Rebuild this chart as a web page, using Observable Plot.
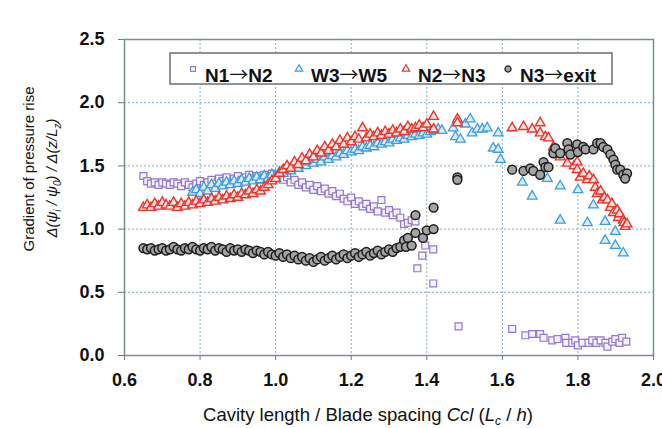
<!DOCTYPE html>
<html>
<head>
<meta charset="utf-8">
<script src="https://cdn.jsdelivr.net/npm/d3@7"></script>
<script src="https://cdn.jsdelivr.net/npm/@observablehq/plot@0.6"></script>
<style>
  html, body { margin: 0; padding: 0; background: #ffffff; }
  svg { display: block; }
</style>
</head>
<body>
<div id="chart"></div>
<script>
// ---- data ----
const seriesNames = ["N1\u2192N2", "W3\u2192W5", "N2\u2192N3", "N3\u2192exit"];
const xTicks = [0.6, 0.8, 1.0, 1.2, 1.4, 1.6, 1.8, 2.0];
const yTicks = [0.0, 0.5, 1.0, 1.5, 2.0, 2.5];

const n1n2 = [
  [0.65,1.42],[0.66,1.38],[0.67,1.36],[0.68,1.37],[0.69,1.35],[0.70,1.37],[0.71,1.36],[0.72,1.35],
  [0.73,1.37],[0.74,1.36],[0.75,1.34],[0.76,1.37],[0.77,1.35],[0.78,1.33],[0.79,1.36],[0.80,1.38],
  [0.81,1.35],[0.82,1.37],[0.83,1.39],[0.84,1.36],[0.85,1.40],[0.86,1.38],[0.87,1.41],[0.88,1.37],
  [0.89,1.40],[0.90,1.42],[0.91,1.39],[0.92,1.41],[0.93,1.43],[0.94,1.40],[0.95,1.42],[0.96,1.39],
  [0.97,1.43],[0.98,1.41],[0.99,1.44],[1.00,1.40],[1.01,1.42],[1.02,1.39],[1.03,1.41],[1.04,1.37],
  [1.05,1.39],[1.06,1.35],[1.07,1.37],[1.08,1.33],[1.09,1.35],[1.10,1.31],[1.11,1.34],[1.12,1.30],
  [1.13,1.32],[1.14,1.28],[1.15,1.30],[1.16,1.26],[1.17,1.28],[1.18,1.24],[1.19,1.22],[1.20,1.25],
  [1.21,1.20],[1.22,1.22],[1.23,1.18],[1.24,1.20],[1.25,1.16],[1.26,1.18],[1.27,1.14],[1.28,1.23],
  [1.29,1.13],[1.30,1.15],[1.31,1.11],[1.32,1.13],[1.33,1.09],[1.34,1.04],[1.35,1.05],[1.36,1.07],
  [1.37,1.06],[1.375,0.69],[1.388,0.79],[1.396,0.87],[1.417,0.84],[1.417,0.57],[1.484,0.23],
  [1.626,0.21],[1.661,0.16],[1.679,0.17],[1.70,0.17],[1.709,0.14],[1.732,0.12],[1.746,0.13],
  [1.767,0.14],[1.769,0.10],[1.785,0.10],[1.793,0.12],[1.80,0.08],[1.812,0.10],[1.828,0.10],
  [1.838,0.12],[1.849,0.10],[1.86,0.12],[1.873,0.10],[1.878,0.07],[1.891,0.11],[1.899,0.13],
  [1.91,0.10],[1.917,0.14],[1.928,0.11]
];

const w3w5 = [
  [0.78,1.29],[0.79,1.31],[0.80,1.28],[0.81,1.33],[0.82,1.30],[0.83,1.35],[0.84,1.32],[0.85,1.36],
  [0.86,1.34],[0.87,1.37],[0.88,1.35],[0.89,1.38],[0.90,1.36],[0.91,1.39],[0.92,1.37],[0.93,1.40],
  [0.94,1.38],[0.95,1.41],[0.96,1.39],[0.97,1.42],[0.98,1.40],[0.99,1.43],[1.00,1.42],[1.01,1.45],
  [1.02,1.44],[1.03,1.47],[1.04,1.46],[1.05,1.49],[1.06,1.48],[1.07,1.51],[1.08,1.50],[1.09,1.53],
  [1.10,1.52],[1.11,1.55],[1.12,1.53],[1.13,1.57],[1.14,1.55],[1.15,1.58],[1.16,1.57],[1.17,1.60],
  [1.18,1.59],[1.19,1.62],[1.20,1.61],[1.21,1.63],[1.22,1.62],[1.23,1.65],[1.24,1.64],[1.25,1.66],
  [1.26,1.65],[1.27,1.68],[1.28,1.67],[1.29,1.69],[1.30,1.68],[1.31,1.71],[1.32,1.70],[1.33,1.72],
  [1.34,1.71],[1.35,1.74],[1.36,1.73],[1.37,1.75],[1.38,1.74],[1.39,1.76],[1.40,1.75],[1.41,1.77],
  [1.42,1.78],[1.43,1.79],[1.44,1.78],[1.47,1.80],[1.476,1.73],[1.489,1.71],[1.502,1.83],
  [1.515,1.87],[1.52,1.76],[1.534,1.79],[1.547,1.79],[1.56,1.80],[1.589,1.76],[1.576,1.64],
  [1.589,1.63],[1.595,1.55],[1.653,1.37],[1.679,1.26],[1.719,1.40],[1.753,1.34],[1.753,1.07],
  [1.80,1.31],[1.825,1.05],[1.841,1.19],[1.872,1.06],[1.872,0.91],[1.899,0.98],[1.899,0.87],
  [1.92,0.81]
];

const n2n3 = [
  [0.65,1.17],[0.66,1.19],[0.67,1.17],[0.68,1.20],[0.69,1.18],[0.70,1.21],[0.71,1.19],[0.72,1.18],
  [0.73,1.21],[0.74,1.17],[0.75,1.20],[0.76,1.18],[0.77,1.21],[0.78,1.19],[0.79,1.22],[0.80,1.20],
  [0.81,1.23],[0.82,1.21],[0.83,1.24],[0.84,1.22],[0.85,1.25],[0.86,1.23],[0.87,1.26],[0.88,1.24],
  [0.89,1.27],[0.90,1.25],[0.91,1.28],[0.92,1.27],[0.93,1.30],[0.94,1.28],[0.95,1.31],[0.96,1.30],
  [0.97,1.33],[0.98,1.35],[0.99,1.38],[1.00,1.40],[1.01,1.44],[1.02,1.47],[1.03,1.50],[1.04,1.48],
  [1.05,1.53],[1.06,1.51],[1.07,1.56],[1.08,1.54],[1.09,1.59],[1.10,1.57],[1.11,1.62],[1.12,1.60],
  [1.13,1.65],[1.14,1.62],[1.15,1.67],[1.16,1.65],[1.17,1.70],[1.18,1.67],[1.19,1.72],[1.20,1.69],
  [1.21,1.73],[1.22,1.71],[1.23,1.80],[1.24,1.72],[1.25,1.75],[1.26,1.73],[1.27,1.76],[1.28,1.74],
  [1.29,1.77],[1.30,1.75],[1.31,1.78],[1.32,1.76],[1.33,1.79],[1.34,1.77],[1.35,1.81],[1.36,1.79],
  [1.37,1.80],[1.38,1.82],[1.39,1.80],[1.40,1.83],[1.418,1.89],[1.418,1.79],[1.481,1.87],
  [1.481,1.84],[1.626,1.80],[1.656,1.81],[1.679,1.79],[1.70,1.84],[1.70,1.76],[1.714,1.73],
  [1.722,1.72],[1.735,1.65],[1.753,1.57],[1.772,1.52],[1.79,1.50],[1.798,1.53],[1.798,1.47],
  [1.806,1.41],[1.814,1.44],[1.825,1.39],[1.83,1.42],[1.841,1.39],[1.846,1.33],[1.851,1.28],
  [1.86,1.30],[1.865,1.23],[1.87,1.25],[1.878,1.23],[1.886,1.17],[1.89,1.20],[1.894,1.13],
  [1.904,1.15],[1.907,1.09],[1.91,1.12],[1.92,1.07],[1.922,1.05],[1.925,1.02],[1.93,1.04]
];

const n3exit = [
  [0.65,0.85],[0.66,0.84],[0.67,0.85],[0.68,0.83],[0.69,0.84],[0.70,0.85],[0.71,0.83],[0.72,0.84],
  [0.73,0.86],[0.74,0.84],[0.75,0.83],[0.76,0.85],[0.77,0.84],[0.78,0.86],[0.79,0.84],[0.80,0.83],
  [0.81,0.85],[0.82,0.84],[0.83,0.86],[0.84,0.83],[0.85,0.85],[0.86,0.84],[0.87,0.82],[0.88,0.85],
  [0.89,0.83],[0.90,0.84],[0.91,0.82],[0.92,0.84],[0.93,0.83],[0.94,0.81],[0.95,0.83],[0.96,0.82],
  [0.97,0.80],[0.98,0.82],[0.99,0.80],[1.00,0.79],[1.01,0.81],[1.02,0.78],[1.03,0.80],[1.04,0.77],
  [1.05,0.79],[1.06,0.76],[1.07,0.78],[1.08,0.75],[1.09,0.77],[1.10,0.74],[1.11,0.76],[1.12,0.78],
  [1.13,0.75],[1.14,0.77],[1.15,0.79],[1.16,0.76],[1.17,0.78],[1.18,0.80],[1.19,0.77],[1.20,0.79],
  [1.21,0.81],[1.22,0.78],[1.23,0.80],[1.24,0.82],[1.25,0.79],[1.26,0.81],[1.27,0.83],[1.28,0.80],
  [1.29,0.82],[1.30,0.84],[1.31,0.82],[1.32,0.85],[1.33,0.86],[1.34,0.91],[1.345,0.86],
  [1.35,0.93],[1.36,0.87],[1.37,0.97],[1.37,1.11],[1.39,0.93],[1.40,0.99],[1.418,1.17],
  [1.418,1.00],[1.481,1.41],[1.481,1.39],[1.626,1.47],[1.656,1.46],[1.674,1.48],[1.682,1.46],
  [1.70,1.43],[1.709,1.53],[1.714,1.49],[1.722,1.49],[1.735,1.60],[1.74,1.64],[1.753,1.60],
  [1.772,1.68],[1.775,1.63],[1.78,1.59],[1.798,1.67],[1.80,1.61],[1.814,1.65],[1.82,1.63],
  [1.841,1.63],[1.851,1.68],[1.86,1.68],[1.867,1.65],[1.878,1.63],[1.886,1.59],[1.894,1.55],
  [1.899,1.51],[1.904,1.47],[1.912,1.47],[1.92,1.43],[1.93,1.44],[1.925,1.40]
];

// ---- styles ----
const styles = [
  {data: n1n2,  symbol: "square",   stroke: "#9478cc", fill: "#f6f2fc", r: 3.9, sw: 1.2},
  {data: w3w5,  symbol: "triangle", stroke: "#3d9de0", fill: "#dcebf8", r: 3.6, sw: 1.3},
  {data: n2n3,  symbol: "triangle", stroke: "#e8362c", fill: "#fbe3df", r: 3.6, sw: 1.4},
  {data: n3exit,symbol: "circle",   stroke: "#1c1c1c", fill: "#a3a3a3", r: 4.4, sw: 1.5}
];

const tickFont = "'Liberation Sans', Arial, sans-serif";
const gridStroke = "#86aac0";

const marks = [
  Plot.gridX(xTicks.slice(1, -1), {stroke: gridStroke, strokeOpacity: 1, strokeDasharray: "2,2"}),
  Plot.gridY(yTicks.slice(1, -1), {stroke: gridStroke, strokeOpacity: 1, strokeDasharray: "2,2"}),
  ...styles.map(s => Plot.dot(s.data, {
    x: d => d[0], y: d => d[1], symbol: () => s.symbol,
    r: s.r, stroke: s.stroke, fill: s.fill, strokeWidth: s.sw
  })),
  Plot.frame({stroke: "#7b8c94", strokeWidth: 1.5}),
  Plot.axisX(xTicks, {tickSize: 5, tickPadding: 13, tickFormat: d => d.toFixed(1), label: null,
    stroke: "#6b7b82", fontWeight: "bold", fontSize: 18, fill: "#111"}),
  Plot.axisY(yTicks, {tickSize: 6, tickPadding: 14, tickFormat: d => d.toFixed(1), label: null,
    stroke: "#6b7b82", fontWeight: "bold", fontSize: 18, fill: "#111"})
];

const chart = Plot.plot({
  width: 662, height: 428,
  marginLeft: 124, marginRight: 9, marginTop: 39, marginBottom: 73,
  x: {domain: [0.6, 2.0]},
  y: {domain: [0, 2.5]},
  symbol: {domain: ["square", "triangle", "circle"], range: ["square", "triangle", "circle"]},
  style: {fontFamily: tickFont, fontSize: "18px", background: "#ffffff", overflow: "visible"},
  marks
});
document.getElementById("chart").appendChild(chart);

// ---- titles and legend (real text) ----
const svg = d3.select(chart);
const font = "'Liberation Sans', Arial, sans-serif";
const arrowFont = "'Noto Sans CJK JP', 'DejaVu Sans', sans-serif";

// y-axis title, two lines
svg.append("text")
  .attr("transform", "translate(34,169) rotate(-90)")
  .attr("text-anchor", "middle").attr("font-family", font).attr("font-size", 15)
  .attr("fill", "#111").text("Gradient of pressure rise");
const yl2 = svg.append("text")
  .attr("transform", "translate(57,178) rotate(-90)")
  .attr("text-anchor", "middle").attr("font-family", font).attr("font-size", 15)
  .attr("font-style", "italic").attr("fill", "#111");
yl2.append("tspan").text("\u0394(\u03c8");
yl2.append("tspan").attr("font-size", 10).attr("dy", 4).text("i");
yl2.append("tspan").attr("dy", -4).text(" / \u03c8");
yl2.append("tspan").attr("font-size", 10).attr("dy", 4).text("0");
yl2.append("tspan").attr("dy", -4).text(") / \u0394(z/L");
yl2.append("tspan").attr("font-size", 10).attr("dy", 4).text("z");
yl2.append("tspan").attr("dy", -4).text(")");

// x-axis title
const xt = svg.append("text")
  .attr("x", 368).attr("y", 421).attr("text-anchor", "middle")
  .attr("font-family", font).attr("font-size", 18.5).attr("fill", "#111");
xt.append("tspan").text("Cavity length / Blade spacing ");
xt.append("tspan").attr("font-style", "italic").text("Ccl");
xt.append("tspan").text(" (");
xt.append("tspan").attr("font-style", "italic").text("L");
xt.append("tspan").attr("font-size", 12).attr("dy", 4).attr("font-style", "italic").text("c");
xt.append("tspan").attr("dy", -4).text(" / ");
xt.append("tspan").attr("font-style", "italic").text("h");
xt.append("tspan").text(")");

// legend
const lg = svg.append("g").attr("text-anchor", "start");
lg.append("rect").attr("x", 170).attr("y", 53).attr("width", 442).attr("height", 31)
  .attr("fill", "#ffffff").attr("stroke", "#6f6f6f").attr("stroke-width", 1.5);
const legendX = [193, 299, 406, 508];
const sym = {square: d3.symbolSquare, triangle: d3.symbolTriangle, circle: d3.symbolCircle};
styles.forEach((s, i) => {
  lg.append("path")
    .attr("d", d3.symbol(sym[s.symbol], s.symbol === "circle" ? 30 : 24)())
    .attr("transform", `translate(${legendX[i]},69)`)
    .attr("fill", s.symbol === "circle" ? s.fill : "#fff").attr("stroke", s.stroke).attr("stroke-width", 1.2);
  const parts = seriesNames[i].split("\u2192");
  const t = lg.append("text").attr("x", legendX[i] + 12).attr("y", 82).attr("text-anchor", "start")
    .attr("font-family", font).attr("font-size", 19).attr("font-weight", "bold").attr("fill", "#111");
  t.append("tspan").text(parts[0]);
  t.append("tspan").attr("font-family", arrowFont).attr("font-weight", "normal").text("\u2192");
  t.append("tspan").text(parts[1]);
});
</script>
</body>
</html>
